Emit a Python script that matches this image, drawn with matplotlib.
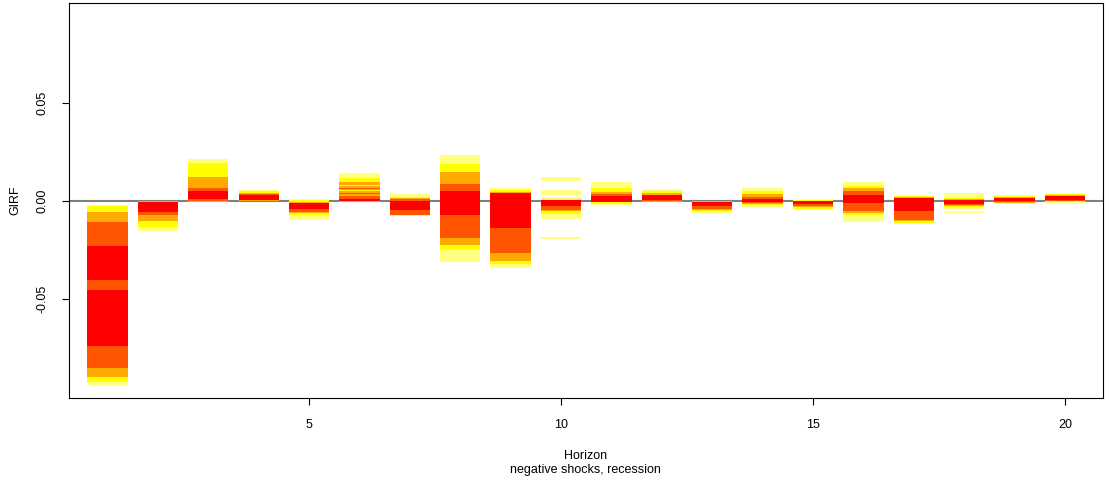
import matplotlib
matplotlib.use("Agg")
import matplotlib.pyplot as plt

plt.rcParams['font.family'] = ['Liberation Sans', 'DejaVu Sans']

horizons = list(range(1, 21))

# colour codes: L light yellow, Y yellow, O orange, D dark orange, R red, '-' gap
palette = {'L': '#FFFF80', 'Y': '#FFFF00', 'O': '#FFAA00', 'D': '#FF5500', 'R': '#FF0000'}

# band edges (top to bottom) for each horizon
band_edges = [
    [-0.0021, -0.0029, -0.0056, -0.0107, -0.0230, -0.0403, -0.0454, -0.0740, -0.0852, -0.0898, -0.0923, -0.0939],
    [0.0000, -0.0006, -0.0057, -0.0073, -0.0104, -0.0134, -0.0154],
    [0.0213, 0.0191, 0.0123, 0.0065, 0.0052, 0.0009, 0.0000, -0.0006],
    [0.0055, 0.0048, 0.0041, 0.0035, 0.0031, 0.0004, -0.0001],
    [0.0009, 0.0003, -0.0005, -0.0011, -0.0042, -0.0057, -0.0062, -0.0072, -0.0098],
    [0.0142, 0.0118, 0.0097, 0.0082, 0.0077, 0.0067, 0.0062, 0.0057, 0.0052, 0.0041, 0.0033, 0.0026, 0.0011, 0.0000, -0.0005],
    [0.0035, 0.0019, 0.0014, 0.0009, 0.0000, -0.0047, -0.0072, -0.0078],
    [0.0234, 0.0188, 0.0147, 0.0086, 0.0050, -0.0072, -0.0190, -0.0226, -0.0251, -0.0312],
    [0.0065, 0.0055, 0.0045, 0.0040, -0.0139, -0.0266, -0.0307, -0.0322, -0.0343],
    [0.0121, 0.0101, 0.0055, 0.0030, 0.0019, 0.0011, 0.0004, -0.0027, -0.0047, -0.0052, -0.0065, -0.0093, -0.0185, -0.0195],
    [0.0096, 0.0065, 0.0045, 0.0035, 0.0024, -0.0006, -0.0016, -0.0021],
    [0.0060, 0.0050, 0.0040, 0.0030, 0.0004, -0.0001, -0.0006],
    [0.0000, -0.0005, -0.0025, -0.0040, -0.0045, -0.0051, -0.0061],
    [0.0065, 0.0050, 0.0035, 0.0019, 0.0009, -0.0006, -0.0011, -0.0016, -0.0021, -0.0032],
    [0.0005, 0.0000, -0.0015, -0.0025, -0.0030, -0.0040, -0.0045],
    [0.0096, 0.0076, 0.0065, 0.0050, 0.0030, -0.0011, -0.0052, -0.0062, -0.0072, -0.0108],
    [0.0024, 0.0019, 0.0014, -0.0052, -0.0098, -0.0103, -0.0113, -0.0118],
    [0.0040, 0.0030, 0.0024, 0.0014, 0.0009, 0.0004, -0.0016, -0.0021, -0.0027, -0.0032, -0.0042, -0.0052, -0.0062],
    [0.0030, 0.0024, 0.0019, 0.0014, -0.0001, -0.0006, -0.0011, -0.0016],
    [0.0040, 0.0035, 0.0030, 0.0024, 0.0004, -0.0001, -0.0006, -0.0011],
]

band_colors = [
    "LYODRDRDOYL",
    "ORDOYL",
    "LYODRDO",
    "LYODRO",
    "LYORDOYL",
    "LYOYODOYODODRO",
    "LYODRDY",
    "LYODRDOYL",
    "LYORDOYL",
    "L-L-LYRDOYL-L",
    "LYODRYL",
    "LYORDO",
    "ORDOYL",
    "LYODRDOYL",
    "YRDOYL",
    "LYODRDOYL",
    "YORDOYL",
    "L-LYORDOYL-L",
    "LYORDOL",
    "LYORDYL",
]

x_ticks = [5, 10, 15, 20]
y_ticks = [-0.05, 0.0, 0.05]
y_tick_labels = ["-0.05", "0.00", "0.05"]

fig = plt.figure(figsize=(11.09, 4.86), dpi=100)
ax = fig.add_axes([69 / 1109, 1 - 398 / 486, (1102.7 - 69) / 1109, (398 - 3) / 486])

ax.axhline(0, color='#808080', lw=1.5, zorder=1)

for h, edges, cols in zip(horizons, band_edges, band_colors):
    for i, c in enumerate(cols):
        if c == '-':
            continue
        top, bot = edges[i], edges[i + 1]
        ax.bar(h, top - bot, bottom=bot, width=0.8, color=palette[c],
               linewidth=0, zorder=2)

ax.set_xlim(0.236, 20.75)
ax.set_ylim(-0.1006, 0.1009)

ax.set_xticks(x_ticks)
ax.set_xticklabels([str(t) for t in x_ticks])
ax.set_yticks(y_ticks)
ax.set_yticklabels(y_tick_labels, rotation=90, va='center')

ax.tick_params(axis='both', direction='out', length=5, width=0.8,
               labelsize=9, colors='black')
ax.tick_params(axis='x', pad=10)
ax.tick_params(axis='y', pad=10)

for s in ax.spines.values():
    s.set_linewidth(0.8)
    s.set_color('black')

cx = (69 + 1102.7) / 2 / 1109
fig.text(cx, 1 - 456 / 486, "Horizon", ha='center', va='center', fontsize=9)
fig.text(cx, 1 - 470 / 486, "negative shocks, recession", ha='center', va='center', fontsize=9)
fig.text(15 / 1109, 1 - 200 / 486, "GIRF", rotation=90, ha='center', va='center', fontsize=9)

fig.savefig("out.png", dpi=100)
